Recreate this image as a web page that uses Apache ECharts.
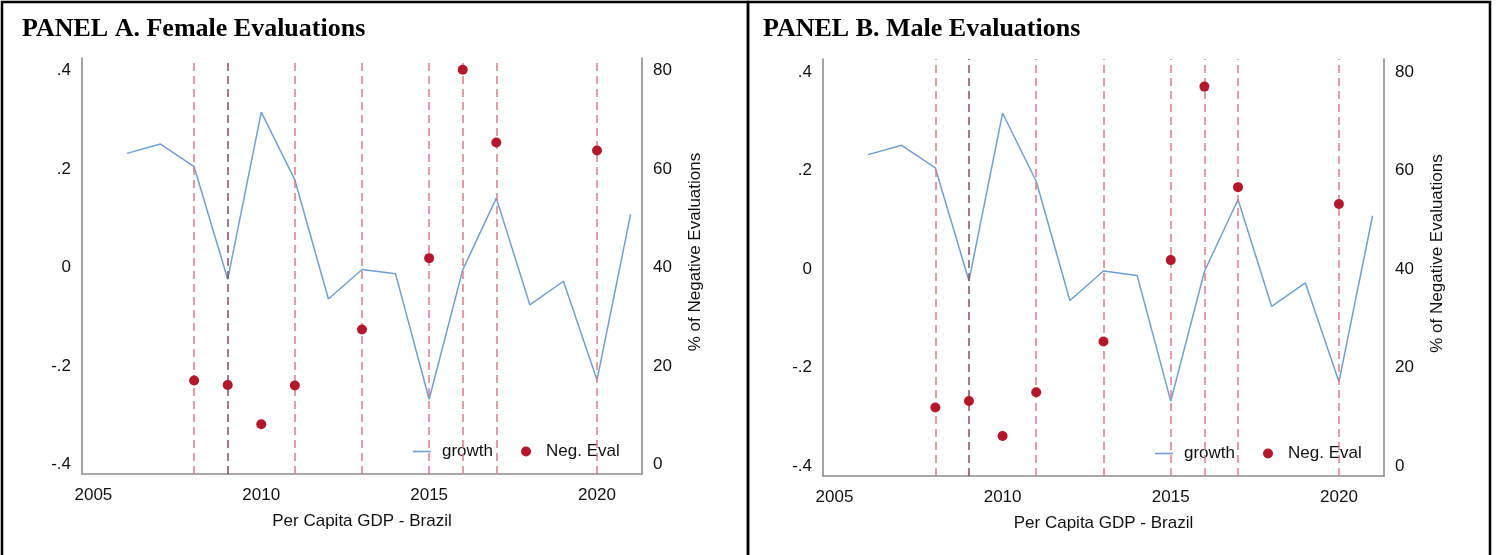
<!DOCTYPE html>
<html>
<head>
<meta charset="utf-8">
<script src="https://cdn.jsdelivr.net/npm/echarts@6/dist/echarts.min.js"></script>
<style>
  html, body { margin: 0; padding: 0; background: #fff; }
  #chart { width: 1498px; height: 555px; }
</style>
</head>
<body>
<div id="chart"></div>
<script>
// Years of the per-capita GDP growth series
const years = [2006, 2007, 2008, 2009, 2010, 2011, 2012, 2013, 2014, 2015, 2016, 2017, 2018, 2019, 2020, 2021];
// Per capita GDP growth - Brazil
const growth = [0.232, 0.251, 0.205, -0.024, 0.316, 0.178, -0.064, -0.004, -0.013, -0.268, -0.005, 0.141, -0.076, -0.028, -0.229, 0.108];

// Years with evaluations
const evalYears = [2008, 2009, 2010, 2011, 2013, 2015, 2016, 2017, 2020];
// % of negative evaluations
const negFemale = [17.0, 16.1, 8.1, 16.0, 27.4, 41.9, 80.2, 65.4, 63.8];
const negMale = [11.9, 13.2, 6.1, 15.0, 25.3, 41.8, 77.0, 56.6, 53.2];

// Years marked by vertical reference lines
const markYears = [2008, 2009, 2011, 2013, 2015, 2016, 2017, 2020];
const darkMarkYear = 2009;

// Tick labels
const xTicks = [2005, 2010, 2015, 2020];
const leftTicks = [-0.4, -0.2, 0, 0.2, 0.4];
const rightTicks = [0, 20, 40, 60, 80];

const panelTitles = ['PANEL A. Female Evaluations', 'PANEL B. Male Evaluations'];
const xName = 'Per Capita GDP - Brazil';
const rightName = '% of Negative Evaluations';

const FONT = '"Liberation Sans", Arial, sans-serif';
const TXT = '#111';
const AXIS = '#8c8c8c';
const BLUE = '#6f9fd4';
const RED = '#b3172c';

const grids = [
  { left: 82, top: 58, width: 560, height: 416 },
  { left: 823, top: 59, width: 561, height: 417 }
];

function fmtLeft(v) {
  const r = Math.round(v * 10) / 10;
  if (r === 0) return '0';
  return (r < 0 ? '-' : '') + Math.abs(r).toFixed(1).replace(/^0/, '');
}

const xAxes = [], yAxes = [], series = [], titles = [], legends = [];

grids.forEach((g, i) => {
  xAxes.push({
    gridIndex: i, type: 'value', min: 2004.66, max: 2021.34,
    axisLine: { show: true, onZero: false, lineStyle: { color: AXIS, width: 1.6 } },
    axisTick: { show: false }, splitLine: { show: false },
    axisLabel: { customValues: xTicks, formatter: v => String(Math.round(v)), color: TXT, fontFamily: FONT, fontSize: 17, margin: 13 },
    name: xName, nameLocation: 'middle', nameGap: 39,
    nameTextStyle: { color: TXT, fontFamily: FONT, fontSize: 17 }
  });
  yAxes.push({
    gridIndex: i, type: 'value', position: 'left', min: -0.42, max: 0.426,
    axisLine: { show: true, onZero: false, lineStyle: { color: AXIS, width: 1.6 } },
    axisTick: { show: false }, splitLine: { show: false },
    axisLabel: { customValues: leftTicks, formatter: fmtLeft, color: TXT, fontFamily: FONT, fontSize: 17, margin: 11 }
  });
  yAxes.push({
    gridIndex: i, type: 'value', position: 'right', min: -2, max: 82.6,
    axisLine: { show: true, onZero: false, lineStyle: { color: AXIS, width: 1.6 } },
    axisTick: { show: false }, splitLine: { show: false },
    axisLabel: { customValues: rightTicks, color: TXT, fontFamily: FONT, fontSize: 17, margin: 11 },
    name: rightName, nameLocation: 'middle', nameRotate: 90, nameGap: 45,
    nameTextStyle: { color: TXT, fontFamily: FONT, fontSize: 17, padding: [0, 0, 0, 28] }
  });

  const neg = i === 0 ? negFemale : negMale;

  // vertical dashed reference lines
  series.push({
    name: 'ref', type: 'line', xAxisIndex: i, yAxisIndex: 2 * i, data: [],
    silent: true, z: 1,
    markLine: {
      silent: true, symbol: ['none', 'none'], label: { show: false },
      lineStyle: { type: [8, 5], color: '#de7c89', width: 1.5 },
      emphasis: { disabled: true },
      data: markYears.map(y => y === darkMarkYear
        ? { xAxis: y, lineStyle: { color: '#8a4a66', type: [8, 5], width: 1.5 } }
        : { xAxis: y })
    }
  });
  series.push({
    name: 'growth', type: 'line', xAxisIndex: i, yAxisIndex: 2 * i,
    data: years.map((y, k) => [y, growth[k]]),
    symbol: 'none', lineStyle: { color: BLUE, width: 1.5 }, itemStyle: { color: BLUE },
    z: 3, silent: true
  });
  series.push({
    name: 'Neg. Eval', type: 'scatter', xAxisIndex: i, yAxisIndex: 2 * i + 1,
    data: evalYears.map((y, k) => [y, neg[k]]),
    symbol: 'circle', symbolSize: 10, itemStyle: { color: RED, opacity: 1 },
    z: 5, silent: true
  });

  titles.push({
    text: panelTitles[i], left: i === 0 ? 17 : 758, top: 11,
    textStyle: { fontFamily: '"Liberation Serif", "Times New Roman", serif', fontWeight: 'bold', fontSize: 26, color: '#000' }
  });
  legends.push({
    data: [
      { name: 'growth', icon: 'path://M0 0 H18 V1.6 H0 Z', itemStyle: { color: BLUE } },
      { name: 'Neg. Eval', icon: 'circle' }
    ],
    orient: 'horizontal',
    left: i === 0 ? 403 : 1145, top: i === 0 ? 435 : 437,
    backgroundColor: '#fff', padding: [8, 10, 8, 10],
    itemWidth: 18, itemHeight: 10, itemGap: 28, selectedMode: false,
    textStyle: { color: TXT, fontFamily: FONT, fontSize: 17, padding: [0, 0, 0, 6] }
  });
});

const chart = echarts.init(document.getElementById('chart'), null, { renderer: 'canvas' });
chart.setOption({
  animation: false,
  backgroundColor: '#fff',
  title: titles,
  legend: legends,
  grid: grids,
  xAxis: xAxes,
  yAxis: yAxes,
  series: series,
  graphic: [
    { type: 'rect', shape: { x: 2, y: 2, width: 746, height: 570 }, style: { fill: 'none', stroke: '#000', lineWidth: 2.5 }, silent: true },
    { type: 'rect', shape: { x: 748, y: 2, width: 742, height: 570 }, style: { fill: 'none', stroke: '#000', lineWidth: 2.5 }, silent: true }
  ]
});
</script>
</body>
</html>
